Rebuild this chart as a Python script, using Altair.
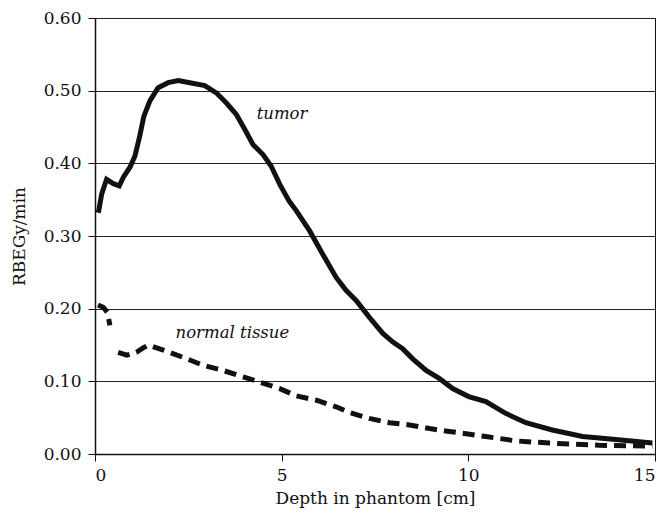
import altair as alt
import pandas as pd

# Tumor dose rate curve
tumor_x = [0.09, 0.18, 0.31, 0.49, 0.65, 0.76, 0.94, 1.07, 1.20, 1.31, 1.47, 1.69, 1.96,
           2.23, 2.54, 2.94, 3.25, 3.52, 3.79, 4.01, 4.23, 4.50, 4.72, 4.95, 5.20, 5.39,
           5.75, 6.10, 6.46, 6.73, 7.00, 7.35, 7.71, 7.98, 8.24, 8.51, 8.87, 9.22, 9.58,
           10.01, 10.47, 11.00, 11.54, 12.25, 13.06, 13.95, 14.93]
tumor_y = [0.332, 0.358, 0.378, 0.372, 0.369, 0.381, 0.395, 0.410, 0.438, 0.465, 0.486,
           0.504, 0.511, 0.514, 0.511, 0.507, 0.497, 0.483, 0.467, 0.447, 0.426, 0.412,
           0.396, 0.371, 0.348, 0.335, 0.307, 0.275, 0.243, 0.225, 0.211, 0.188, 0.166,
           0.154, 0.145, 0.131, 0.115, 0.104, 0.090, 0.079, 0.072, 0.056, 0.043, 0.033,
           0.024, 0.020, 0.015]

# Normal tissue curve (two separate pieces)
normal1_x = [0.08, 0.22, 0.33, 0.40]
normal1_y = [0.205, 0.202, 0.195, 0.177]
normal2_x = [0.62, 0.85, 1.11, 1.29, 1.43, 1.83, 2.36, 2.90, 3.43, 3.97, 4.41, 4.95, 5.39,
             5.93, 6.46, 6.82, 7.35, 7.89, 8.42, 8.96, 9.49, 9.94, 10.47, 11.28, 12.17,
             13.50, 14.93]
normal2_y = [0.140, 0.136, 0.140, 0.146, 0.150, 0.143, 0.133, 0.122, 0.115, 0.106, 0.099,
             0.090, 0.080, 0.074, 0.065, 0.057, 0.049, 0.043, 0.040, 0.035, 0.031, 0.028,
             0.024, 0.018, 0.015, 0.012, 0.011]

label_text = ["tumor", "normal tissue"]
label_x = [5.01, 3.68]
label_y = [0.468, 0.166]

x_ticks = [0, 5, 10, 15]
y_ticks = [0.0, 0.1, 0.2, 0.3, 0.4, 0.5, 0.6]

FONT = "DejaVu Serif"

tumor_df = pd.DataFrame({"depth": tumor_x, "rate": tumor_y})
normal_df = pd.concat([
    pd.DataFrame({"depth": normal1_x, "rate": normal1_y, "seg": "a"}),
    pd.DataFrame({"depth": normal2_x, "rate": normal2_y, "seg": "b"}),
])
label_df = pd.DataFrame({"depth": label_x, "rate": label_y, "label": label_text})

x = alt.X("depth:Q",
          scale=alt.Scale(domain=[0, 15], nice=False, zero=False),
          axis=alt.Axis(values=x_ticks, title="Depth in phantom [cm]", grid=False,
                        tickSize=7, labelPadding=6, titlePadding=7))
y = alt.Y("rate:Q",
          scale=alt.Scale(domain=[0, 0.6], nice=False),
          axis=alt.Axis(values=y_ticks, format=".2f", title="RBEGy/min", grid=True,
                        tickSize=7, labelPadding=7, titlePadding=15))

tumor = alt.Chart(tumor_df).mark_line(color="#111111", strokeWidth=5).encode(x=x, y=y)
normal = alt.Chart(normal_df).mark_line(
    color="#111111", strokeWidth=5, strokeDash=[12, 7]
).encode(x=x, y=y, detail="seg:N")
labels = alt.Chart(label_df).mark_text(
    font=FONT, fontStyle="italic", fontSize=16.5, color="#111111"
).encode(x=x, y=y, text="label:N")

chart = alt.layer(tumor, normal, labels).properties(
    width=560, height=436,
    autosize=alt.AutoSizeParams(type="none"),
    padding={"left": 87, "top": 10, "right": 3, "bottom": 60},
).configure_view(
    stroke="#111111", strokeWidth=1
).configure_axis(
    labelFont=FONT, titleFont=FONT, labelFontSize=17, titleFontSize=17,
    titleFontWeight="normal", labelColor="#111111", titleColor="#111111",
    domainColor="#111111", domainWidth=1.5, tickColor="#111111", tickWidth=1,
    gridColor="#222222", gridWidth=1, gridOpacity=1,
)

chart.save("out.html", embed_options={"renderer": "svg", "actions": False})
